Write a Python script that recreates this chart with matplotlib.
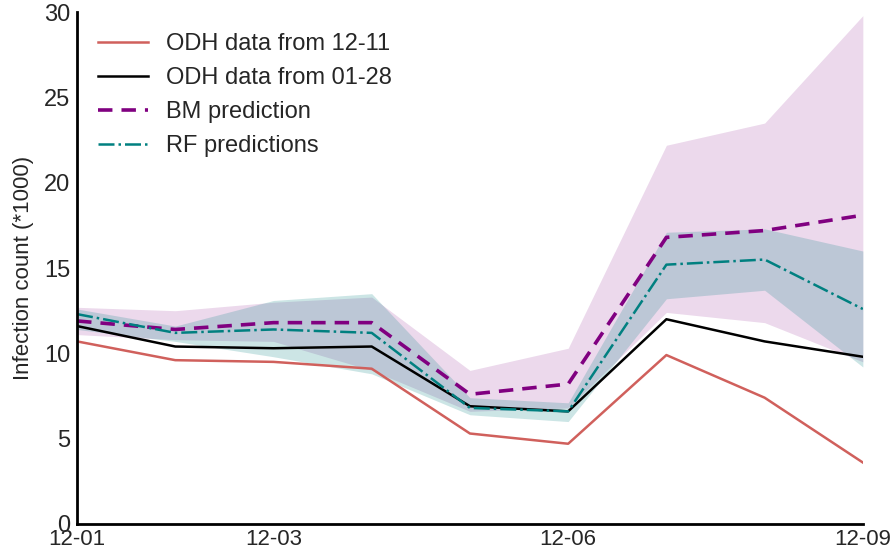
import numpy as np
import matplotlib.pyplot as plt

plt.rcParams['font.family'] = ['Liberation Sans', 'DejaVu Sans']
plt.rcParams['text.color'] = '0.15'
plt.rcParams['xtick.color'] = '0.15'
plt.rcParams['ytick.color'] = '0.15'
plt.rcParams['axes.labelcolor'] = '0.15'

days = ['12-01', '12-02', '12-03', '12-04', '12-05', '12-06', '12-07', '12-08', '12-09']
odh_1211 = [10.7, 9.6, 9.5, 9.1, 5.3, 4.7, 9.9, 7.4, 3.6]
odh_0128 = [11.6, 10.4, 10.3, 10.4, 6.9, 6.6, 12.0, 10.7, 9.8]
bm_pred = [11.9, 11.4, 11.8, 11.8, 7.6, 8.2, 16.8, 17.2, 18.1]
bm_low = [11.1, 10.8, 10.7, 9.0, 6.6, 6.8, 12.4, 11.8, 9.5]
bm_high = [12.7, 12.5, 13.0, 13.3, 9.0, 10.3, 22.2, 23.5, 29.8]
rf_pred = [12.3, 11.2, 11.4, 11.2, 6.8, 6.6, 15.2, 15.5, 12.6]
rf_low = [11.4, 10.7, 9.8, 8.8, 6.4, 6.0, 13.2, 13.7, 9.2]
rf_high = [12.6, 11.6, 13.1, 13.5, 7.4, 7.1, 17.1, 17.3, 16.0]
tick_days = ['12-01', '12-03', '12-06', '12-09']

x = np.arange(len(days))

fig, ax = plt.subplots(figsize=(8.96, 5.55), dpi=100)
fig.subplots_adjust(left=0.086, right=0.963, top=0.978, bottom=0.056)

ax.fill_between(x, bm_low, bm_high, color='purple', alpha=0.15, linewidth=0)
ax.fill_between(x, rf_low, rf_high, color='teal', alpha=0.2, linewidth=0)

ax.plot(x, odh_1211, color='#d0605c', lw=1.8, label='ODH data from 12-11')
ax.plot(x, odh_0128, color='black', lw=1.8, label='ODH data from 01-28')
ax.plot(x, bm_pred, color='purple', lw=2.6, ls=(0, (4, 2.5)), label='BM prediction')
ax.plot(x, rf_pred, color='teal', lw=1.8, ls='-.', label='RF predictions')

ax.set_xlim(0, len(days) - 1)
ax.set_ylim(0, 30)
ax.set_xticks([days.index(d) for d in tick_days])
ax.set_xticklabels(tick_days)
ax.set_yticks([0, 5, 10, 15, 20, 25, 30])
ax.tick_params(axis='x', length=0, labelsize=16, pad=4)
ax.tick_params(axis='y', length=0, labelsize=17, pad=5)
ax.set_ylabel('Infection count (*1000)', fontsize=16, labelpad=7)

for s in ['top', 'right']:
    ax.spines[s].set_visible(False)
for s in ['left', 'bottom']:
    ax.spines[s].set_linewidth(2)

ax.legend(loc='upper left', frameon=False, fontsize=17, handlelength=2.1,
          handletextpad=0.75, labelspacing=0.5, bbox_to_anchor=(0.0, 1.0))

fig.savefig('out.png')
